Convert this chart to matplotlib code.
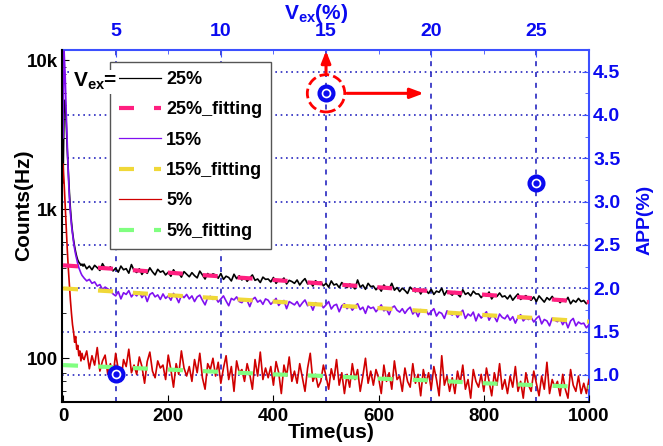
import numpy as np
import matplotlib
matplotlib.use('Agg')
import matplotlib.pyplot as plt
from matplotlib.patches import Ellipse
from matplotlib.ticker import LogLocator, NullFormatter, MultipleLocator

plt.rcParams['font.family'] = ['Liberation Sans', 'DejaVu Sans']
plt.rcParams['font.weight'] = 'bold'
plt.rcParams['mathtext.fontset'] = 'custom'
plt.rcParams['mathtext.rm'] = 'Liberation Sans:bold'
plt.rcParams['mathtext.bf'] = 'Liberation Sans:bold'
plt.rcParams['mathtext.it'] = 'Liberation Sans:bold'

# ---------------- data ----------------
time_us = np.concatenate([np.arange(0, 40, 2), np.arange(40, 1001, 5)])

counts_25 = [
    1500, 4800, 5400, 3800, 2500, 1800, 1300, 1000, 820, 700,
    620, 560, 515, 480, 455, 440, 432, 420, 428, 415,
    428, 398, 415, 392, 420, 405, 388, 431, 402, 396,
    410, 385, 402, 378, 415, 392, 399, 372, 425, 388,
    376, 398, 365, 390, 371, 404, 380, 362, 395, 378,
    385, 362, 377, 355, 392, 368, 374, 350, 381, 366,
    352, 375, 358, 346, 384, 362, 340, 370, 355, 368,
    362, 344, 370, 338, 355, 348, 330, 366, 342, 357,
    335, 352, 328, 346, 362, 333, 340, 322, 350, 338,
    340, 325, 348, 318, 336, 330, 345, 315, 333, 327,
    318, 335, 310, 328, 342, 315, 324, 305, 331, 320,
    325, 306, 318, 300, 330, 310, 315, 298, 322, 308,
    298, 315, 305, 292, 335, 300, 310, 290, 318, 302,
    305, 288, 300, 282, 310, 295, 292, 318, 286, 298,
    280, 295, 285, 272, 300, 288, 279, 293, 270, 290,
    286, 272, 290, 268, 282, 277, 295, 265, 284, 274,
    265, 280, 270, 258, 288, 268, 275, 262, 282, 270,
    270, 255, 268, 262, 278, 250, 266, 260, 274, 258,
    262, 250, 265, 245, 258, 270, 248, 256, 263, 252,
    245, 258, 240, 262, 250, 238, 255, 246, 260, 244,
    250, 236, 248, 240, 256, 232, 245, 238, 252, 240,
    244, 232, 240]

counts_15 = [
    3000, 11500, 8000, 4500, 2700, 1700, 1200, 940, 780, 680,
    600, 540, 495, 460, 430, 405, 388, 372, 360, 352,
    345, 330, 338, 318, 325, 305, 312, 290, 300, 292,
    285, 270, 262, 280, 250, 275, 268, 284, 258, 272,
    262, 278, 255, 270, 240, 268, 275, 258, 266, 248,
    270, 252, 262, 245, 272, 258, 236, 265, 255, 268,
    250, 262, 240, 258, 265, 245, 228, 255, 260, 248,
    255, 238, 250, 262, 242, 225, 252, 246, 258, 240,
    236, 250, 244, 222, 248, 256, 238, 245, 230, 250,
    245, 230, 240, 252, 226, 238, 244, 215, 240, 234,
    228, 240, 222, 235, 246, 225, 232, 210, 236, 228,
    232, 218, 228, 240, 214, 226, 230, 205, 225, 232,
    215, 226, 210, 222, 232, 212, 220, 200, 224, 216,
    220, 205, 216, 228, 208, 214, 196, 218, 224, 210,
    204, 215, 200, 212, 220, 198, 208, 190, 212, 206,
    210, 196, 206, 215, 192, 204, 200, 185, 208, 200,
    195, 205, 188, 200, 210, 185, 198, 192, 204, 178,
    198, 186, 195, 205, 180, 194, 190, 176, 198, 188,
    184, 195, 180, 190, 172, 188, 196, 178, 186, 182,
    188, 175, 185, 192, 170, 182, 178, 165, 186, 180,
    176, 184, 168, 180, 160, 178, 185, 165, 175, 170,
    172, 160, 168]

counts_5 = [
    2000, 1500, 1050, 760, 540, 400, 310, 245, 200, 168,
    150, 128, 140, 115, 122, 104, 112, 96, 108, 100,
    98, 112, 85, 104, 90, 118, 82, 96, 105, 78,
    92, 75, 108, 84, 70, 98, 88, 115, 80, 90,
    78, 102, 88, 68, 95, 110, 82, 74, 96, 86,
    90, 72, 105, 84, 64, 92, 78, 112, 86, 76,
    88, 70, 98, 80, 108, 74, 62, 92, 84, 100,
    76, 94, 68, 86, 104, 72, 88, 60, 96, 80,
    84, 70, 92, 78, 62, 98, 76, 110, 72, 86,
    74, 88, 66, 95, 80, 58, 90, 76, 102, 70,
    82, 68, 92, 74, 60, 86, 108, 70, 78, 64,
    70, 90, 76, 62, 85, 72, 98, 66, 80, 58,
    78, 64, 92, 72, 84, 60, 76, 100, 68, 82,
    66, 84, 74, 58, 90, 70, 80, 62, 96, 72,
    76, 60, 86, 70, 64, 92, 68, 78, 56, 84,
    68, 80, 62, 88, 72, 56, 104, 66, 76, 60,
    74, 58, 82, 68, 90, 62, 72, 54, 84, 70,
    64, 78, 60, 86, 70, 56, 80, 66, 92, 62,
    72, 58, 76, 64, 88, 60, 70, 54, 80, 66,
    60, 82, 68, 56, 76, 62, 94, 58, 72, 64,
    70, 56, 78, 62, 54, 84, 66, 60, 76, 58,
    68, 58, 72]

fit_time = [0, 100, 200, 300, 400, 500, 600, 700, 800, 900, 1000]
fit_25 = [420, 397, 375, 354, 335, 316, 299, 282, 267, 252, 238]
fit_15 = [294, 280, 265, 252, 240, 228, 217, 206, 195, 186, 176]
fit_5 = [90, 87, 84, 81, 78, 76, 73, 71, 68, 66, 64]

vex_pct = [5, 15, 25]
app_pct = [1.01, 4.25, 3.22]

time_ticks = [0, 200, 400, 600, 800, 1000]
count_ticks = [100, 1000, 10000]
count_labels = ['100', '1k', '10k']
vex_ticks = [5, 10, 15, 20, 25]
app_ticks = [1.0, 1.5, 2.0, 2.5, 3.0, 3.5, 4.0, 4.5]

# ---------------- styles ----------------
c_pink = '#ff1f80'
c_purple = '#8010f0'
c_yellow = '#f0d838'
c_red = '#d00000'
c_green = '#80ff80'
c_blue = '#0a0af0'
c_spine = '#3c50ff'
c_grid = '#2828c0'

fig = plt.figure(figsize=(6.63, 4.46), dpi=100)
pos = [62 / 663, 44 / 446, 527 / 663, 352 / 446]
ax2 = fig.add_axes(pos)
ax = fig.add_axes(pos)
ax2.set_zorder(0)
ax.set_zorder(1)
ax.patch.set_visible(False)
ax2.patch.set_facecolor('white')

# ---- secondary (top / right) axes ----
ax2.xaxis.tick_top()
ax2.xaxis.set_label_position('top')
ax2.yaxis.tick_right()
ax2.yaxis.set_label_position('right')
ax2.set_xlim(2.45, 27.5)
ax2.set_ylim(0.688, 4.75)
ax2.set_xticks(vex_ticks)
ax2.set_xticklabels([str(v) for v in vex_ticks])
ax2.xaxis.set_minor_locator(MultipleLocator(2.5))
ax2.set_yticks(app_ticks)
ax2.set_yticklabels(['%.1f' % v for v in app_ticks])
ax2.yaxis.set_minor_locator(MultipleLocator(0.25))
ax2.grid(True, which='major', axis='x', color=c_grid, linestyle=(0, (3, 3.5)), lw=1.2)
ax2.grid(True, which='major', axis='y', color=c_grid, linestyle=(0, (1, 2.2)), lw=1.2)
for s in ['left', 'bottom']:
    ax2.spines[s].set_visible(False)
for s in ['top', 'right']:
    ax2.spines[s].set_color(c_spine)
    ax2.spines[s].set_linewidth(1.5)
ax2.tick_params(axis='both', which='both', direction='in', color=c_spine,
                labelcolor=c_blue, labelsize=14)
ax2.tick_params(axis='x', which='major', length=5, pad=7)
ax2.tick_params(axis='x', which='minor', length=3)
ax2.tick_params(axis='y', which='major', length=5, pad=3)
ax2.tick_params(axis='y', which='minor', length=3)
ax2.set_xlabel(r'$\mathbf{V_{ex}}$(%)', color=c_blue, fontsize=15, fontweight='bold')
ax2.xaxis.set_label_coords((316 - 62) / 527, (402 - 25) / 352)
ax2.xaxis.label.set_va('bottom')
ax2.set_ylabel('APP(%)', color=c_blue, fontsize=14, fontweight='bold')
ax2.yaxis.set_label_coords((637 - 62) / 527, (402 - 220) / 352)

# ---- main axes ----
ax.set_yscale('log')
l25, = ax.plot(time_us, counts_25, color='black', lw=1.2, label='25%', zorder=2)
l15, = ax.plot(time_us, counts_15, color=c_purple, lw=1.2, label='15%', zorder=2)
l5, = ax.plot(time_us, counts_5, color=c_red, lw=1.2, label='5%', zorder=2)
f25, = ax.plot(fit_time, fit_25, color=c_pink, lw=3, dashes=(3.6, 4.8), label='25%_fitting', zorder=3)
f15, = ax.plot(fit_time, fit_15, color=c_yellow, lw=3, dashes=(3.6, 4.8), label='15%_fitting', zorder=3)
f5, = ax.plot(fit_time, fit_5, color=c_green, lw=3, dashes=(3.6, 4.8), label='5%_fitting', zorder=3)

ax.set_xlim(-2, 1000)
ax.set_ylim(50.9, 11670)
ax.set_xticks(time_ticks)
ax.set_xticklabels([str(t) for t in time_ticks])
ax.set_yticks(count_ticks)
ax.set_yticklabels(count_labels)
ax.yaxis.set_minor_locator(LogLocator(base=10, subs=np.arange(2, 10)))
ax.yaxis.set_minor_formatter(NullFormatter())
for s in ['top', 'right']:
    ax.spines[s].set_visible(False)
for s in ['left', 'bottom']:
    ax.spines[s].set_color('black')
    ax.spines[s].set_linewidth(1.5)
ax.tick_params(axis='both', which='major', direction='in', length=5, labelsize=13.5)
ax.tick_params(axis='both', which='minor', direction='in', length=3)
ax.tick_params(axis='y', which='major', pad=3)
ax.tick_params(axis='x', which='major', pad=4)
ax.set_xlabel('Time(us)', fontsize=15, fontweight='bold')
ax.xaxis.set_label_coords((331 - 62) / 527, (402 - 423) / 352)
ax.xaxis.label.set_va('top')
ax.set_ylabel('Counts(Hz)', fontsize=15, fontweight='bold')
ax.yaxis.set_label_coords((33 - 62) / 527, (402 - 205) / 352)

# ---- APP markers (drawn in top/right coordinates) ----
ax.plot(vex_pct, app_pct, transform=ax2.transData, ls='none', marker='o', ms=10, mew=3,
        mfc='white', mec=c_blue, zorder=6, clip_on=False)
ax.plot(vex_pct, app_pct, transform=ax2.transData, ls='none', marker='o', ms=3.5,
        color=c_blue, zorder=7, clip_on=False)

ell = Ellipse((vex_pct[1], app_pct[1]), width=1.78, height=0.43, transform=ax2.transData,
              fill=False, ec='red', lw=2.0, ls=(0, (3.5, 1.5)), zorder=7)
ax.add_patch(ell)
ax.annotate('', xy=(15, 4.74), xytext=(15, 4.47), xycoords=ax2.transData,
            textcoords=ax2.transData,
            arrowprops=dict(arrowstyle='-|>,head_length=0.7,head_width=0.28', color='red',
                            lw=2.2, shrinkA=0, shrinkB=0), zorder=8)
ax.annotate('', xy=(19.65, 4.25), xytext=(16.0, 4.25), xycoords=ax2.transData,
            textcoords=ax2.transData,
            arrowprops=dict(arrowstyle='-|>,head_length=0.8,head_width=0.3', color='red',
                            lw=2.2, shrinkA=0, shrinkB=0), zorder=8)

# ---- legend ----
leg = ax.legend(handles=[l25, f25, l15, f15, l5, f5], loc='upper left',
                bbox_to_anchor=((110 - 62) / 527, (402 - 62) / 352), borderaxespad=0,
                prop={'family': 'Liberation Sans', 'weight': 'bold', 'size': 13},
                handlelength=2.3, handletextpad=0.3, labelspacing=0.74, borderpad=0.5,
                fancybox=False, framealpha=1, edgecolor='#555555')
leg.get_frame().set_linewidth(1.0)
for h in leg.legend_handles[0::2]:
    h.set_linewidth(0.9)
leg.set_zorder(10)
ax.text((73 - 62) / 527, (402 - 87) / 352, r'$\mathbf{V_{ex}}$=', transform=ax.transAxes,
        fontsize=15, fontweight='bold', ha='left', va='baseline', zorder=11,
        bbox=dict(fc='white', ec='none', pad=1))

fig.savefig('out.png', dpi=100)
